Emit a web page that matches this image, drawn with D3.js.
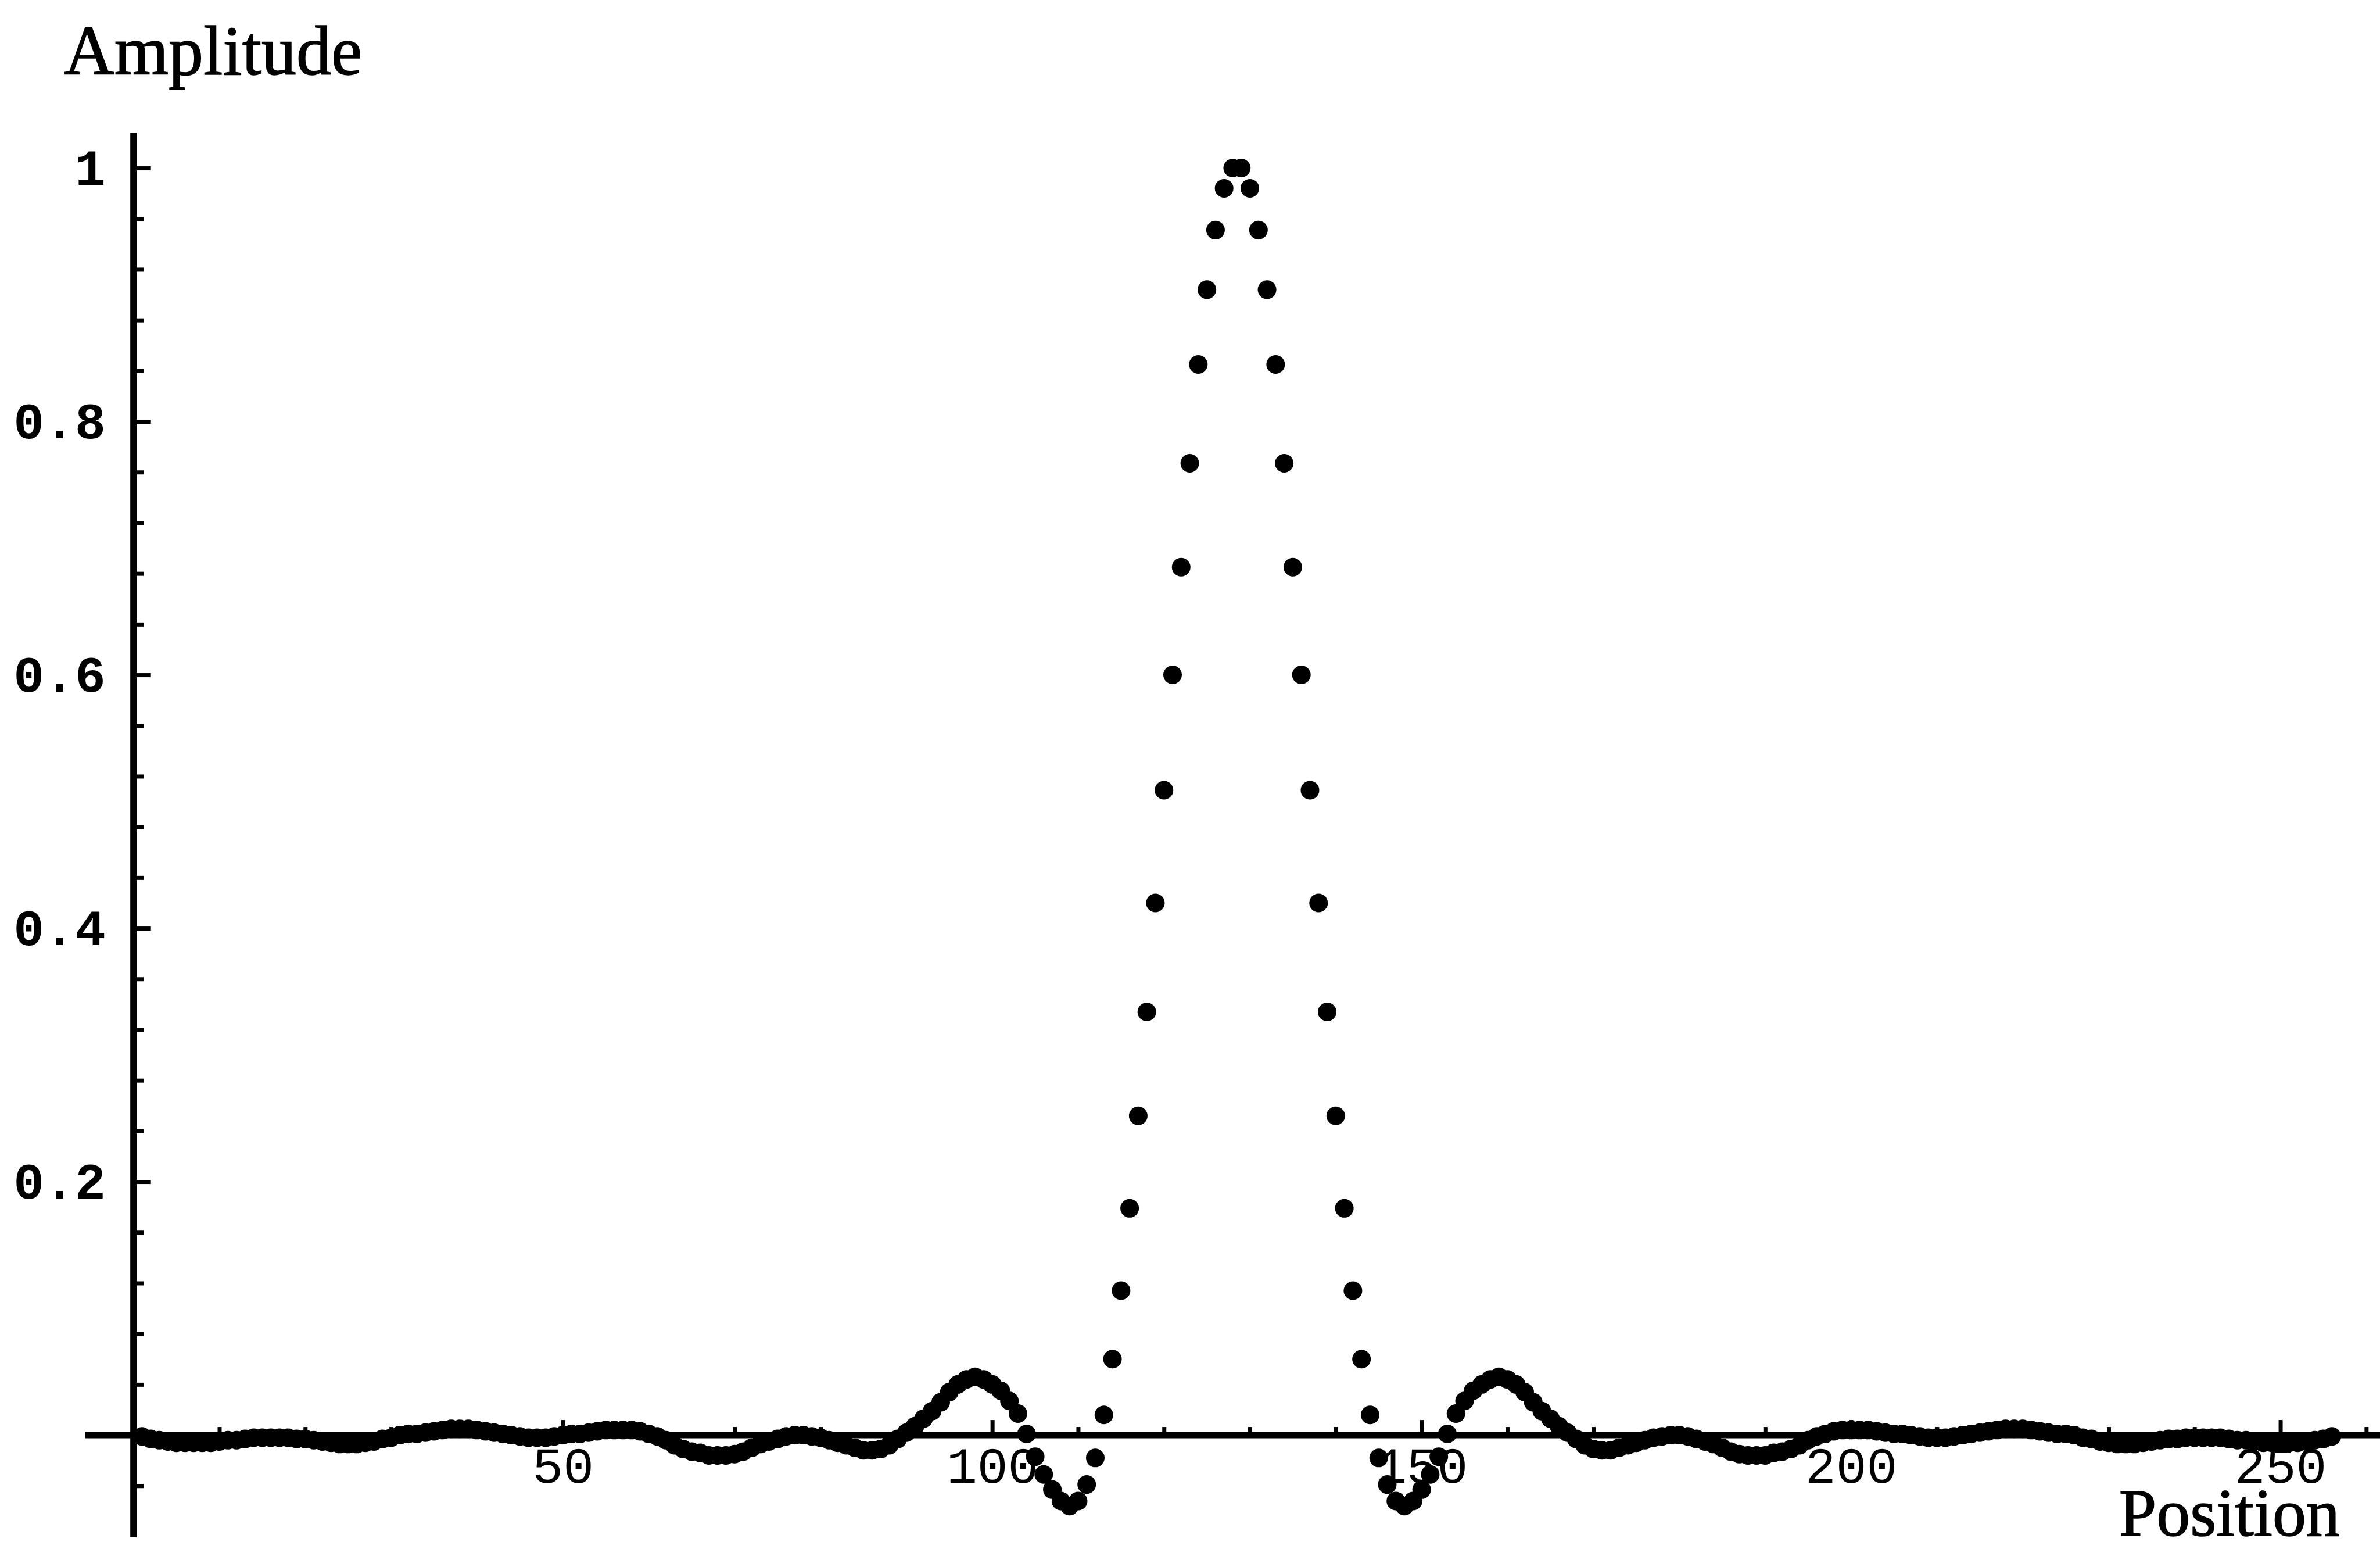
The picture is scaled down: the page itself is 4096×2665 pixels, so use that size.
<!DOCTYPE html>
<html>
<head>
<meta charset="utf-8">
<script src="https://cdn.jsdelivr.net/npm/d3@7"></script>
<style>
  html, body { margin: 0; padding: 0; background: #fff; }
  svg { display: block; }
</style>
</head>
<body>
<div id="chart"></div>
<script>
// amplitude of each sample, positions 1..256
var amplitude = [
  -0.001,-0.003,-0.004,-0.005,-0.006,-0.006,-0.006,-0.006,-0.006,-0.005,-0.004,-0.004,-0.003,-0.002,-0.002,-0.002,
  -0.002,-0.002,-0.003,-0.003,-0.004,-0.005,-0.006,-0.007,-0.007,-0.007,-0.006,-0.005,-0.003,-0.002,0.000,0.001,
  0.001,0.002,0.003,0.004,0.005,0.005,0.005,0.004,0.003,0.002,0.001,0.000,-0.001,-0.002,-0.002,-0.002,
  -0.001,0.000,0.001,0.001,0.002,0.003,0.004,0.004,0.004,0.004,0.003,0.001,-0.001,-0.004,-0.008,-0.011,
  -0.013,-0.014,-0.016,-0.016,-0.016,-0.015,-0.013,-0.010,-0.007,-0.005,-0.003,-0.001,0.000,0.000,-0.001,-0.002,
  -0.004,-0.006,-0.008,-0.010,-0.012,-0.012,-0.011,-0.008,-0.003,0.002,0.007,0.013,0.019,0.026,0.034,0.040,
  0.044,0.046,0.044,0.040,0.035,0.027,0.017,0.001,-0.017,-0.031,-0.043,-0.052,-0.056,-0.052,-0.039,-0.018,
  0.016,0.060,0.114,0.179,0.252,0.334,0.420,0.509,0.600,0.685,0.767,0.845,0.904,0.951,0.984,1.000,
  1.000,0.984,0.951,0.904,0.845,0.767,0.685,0.600,0.509,0.420,0.334,0.252,0.179,0.114,0.060,0.016,
  -0.018,-0.039,-0.052,-0.056,-0.052,-0.043,-0.031,-0.017,0.001,0.017,0.027,0.035,0.040,0.044,0.046,0.044,
  0.040,0.034,0.026,0.019,0.013,0.007,0.002,-0.003,-0.008,-0.011,-0.012,-0.012,-0.010,-0.008,-0.006,-0.004,
  -0.002,-0.001,0.000,0.000,-0.001,-0.003,-0.005,-0.007,-0.010,-0.013,-0.015,-0.016,-0.016,-0.016,-0.014,-0.013,
  -0.011,-0.008,-0.004,-0.001,0.001,0.003,0.004,0.004,0.004,0.004,0.003,0.002,0.001,0.001,0.000,-0.001,
  -0.002,-0.002,-0.002,-0.001,0.000,0.001,0.002,0.003,0.004,0.005,0.005,0.005,0.004,0.003,0.002,0.001,
  0.001,0.000,-0.002,-0.003,-0.005,-0.006,-0.007,-0.007,-0.007,-0.006,-0.005,-0.004,-0.003,-0.003,-0.002,-0.002,
  -0.002,-0.002,-0.002,-0.003,-0.004,-0.004,-0.005,-0.006,-0.006,-0.006,-0.006,-0.006,-0.005,-0.004,-0.003,-0.001
]
var position = d3.range(1, amplitude.length + 1)

var xMajorTicks = [50, 100, 150, 200, 250]
var xTickLabels = ['50', '100', '150', '200', '250']
var yMajorTicks = [0.2, 0.4, 0.6, 0.8, 1]
var yTickLabels = ['0.2', '0.4', '0.6', '0.8', '1']

var width = 4096,
    height = 2665,
    radius = 16,
    axisWidth = 11,
    tickWidth = 7

var xMinorTicks = d3.range(10, 261, 10).filter(function(d){ return d % 50 !== 0 })
var yMinorTicks = d3.range(-1, 25).filter(function(i){ return i % 5 !== 0 })
                    .map(function(i){ return i * 0.04 })

var x = d3.scaleLinear()
          .domain([0, 261.6])
          .range([229.7, width])

var y = d3.scaleLinear()
          .domain([-0.0807, 1.028])
          .range([2645, 228])

var svg = d3.select('#chart')
  .append('svg')
    .attr('width', width)
    .attr('height', height)

svg.append('rect')
   .attr('width', width)
   .attr('height', height)
   .style('fill', '#fff')

// y axis: ticks point right, labels on the left
function styleAxis(g){
  g.select('.domain').remove()
  g.selectAll('.tick line')
   .attr('stroke', '#000')
   .attr('stroke-width', tickWidth)
}

svg.append('g')
   .attr('transform', 'translate(' + x(0) + ',0)')
   .call(d3.axisLeft(y).tickValues(yMinorTicks).tickSizeInner(-18).tickSizeOuter(0).tickFormat(''))
   .call(styleAxis)

svg.append('g')
   .attr('transform', 'translate(' + x(0) + ',0)')
   .call(d3.axisLeft(y).tickValues(yMajorTicks).tickSizeInner(-30).tickSizeOuter(0)
          .tickPadding(48)
          .tickFormat(function(d, i){ return yTickLabels[i] }))
   .call(styleAxis)
   .call(function(g){
     g.selectAll('text')
      .attr('fill', '#000')
      .style('font-family', '"Liberation Mono", "DejaVu Sans Mono", monospace')
      .style('font-weight', 'bold')
      .style('font-size', '88px')
   })

// x axis: ticks point up, labels below
svg.append('g')
   .attr('transform', 'translate(0,' + y(0) + ')')
   .call(d3.axisBottom(x).tickValues(xMinorTicks).tickSizeInner(-14).tickSizeOuter(0).tickFormat(''))
   .call(styleAxis)

svg.append('g')
   .attr('transform', 'translate(0,' + y(0) + ')')
   .call(d3.axisBottom(x).tickValues(xMajorTicks).tickSizeInner(-26).tickSizeOuter(0)
          .tickPadding(19)
          .tickFormat(function(d, i){ return xTickLabels[i] }))
   .call(styleAxis)
   .call(function(g){
     g.selectAll('text')
      .attr('fill', '#000')
      .style('font-family', '"Liberation Mono", "DejaVu Sans Mono", monospace')
      .style('font-size', '88px')
   })

// axis lines
svg.append('line')
   .attr('x1', x(0)).attr('x2', x(0))
   .attr('y1', y(-0.0807)).attr('y2', y(1.028))
   .attr('stroke', '#000')
   .attr('stroke-width', axisWidth)

svg.append('line')
   .attr('x1', x(-5.6)).attr('x2', x(261.6))
   .attr('y1', y(0)).attr('y2', y(0))
   .attr('stroke', '#000')
   .attr('stroke-width', axisWidth)

// the samples
svg.selectAll('circle.sample').data(amplitude)
  .enter().append('circle')
    .classed('sample', true)
    .attr('cx', function(d, i){ return x(position[i]) })
    .attr('cy', function(d){ return y(d) })
    .attr('r', radius)
    .style('fill', '#000')

svg.append('text')
   .text('Amplitude')
   .attr('x', 110)
   .attr('y', 128)
   .style('font-family', '"Liberation Serif", "DejaVu Serif", serif')
   .style('font-size', '120px')
   .style('fill', '#000')
   .style('stroke', '#000')
   .style('stroke-width', 1.5)

svg.append('text')
   .text('Position')
   .attr('text-anchor', 'end')
   .attr('x', 4027)
   .attr('y', 2642)
   .style('font-family', '"Liberation Serif", "DejaVu Serif", serif')
   .style('font-size', '116px')
   .style('fill', '#000')
   .style('stroke', '#000')
   .style('stroke-width', 1.5)
</script>
</body>
</html>
